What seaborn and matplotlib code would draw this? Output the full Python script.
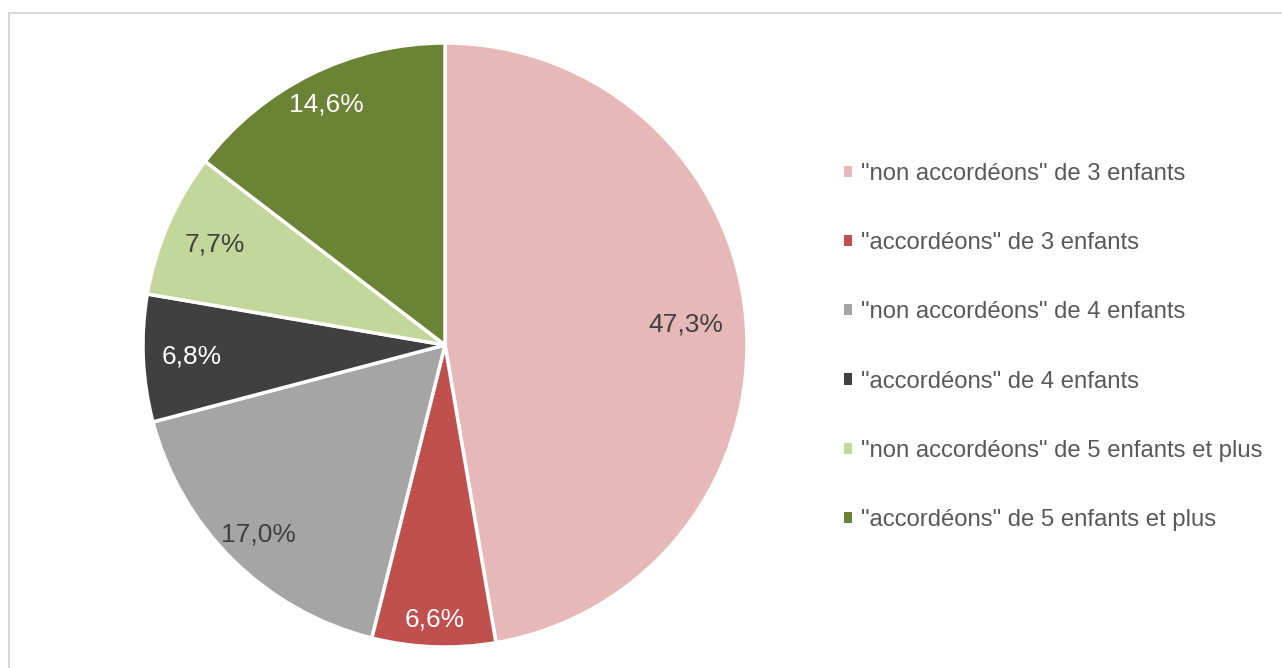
import matplotlib.pyplot as plt
import matplotlib.patches as mpatches
import numpy as np
import seaborn as sns

sns.set_theme(style="white")
plt.rcParams['font.family'] = ['Liberation Sans', 'DejaVu Sans']

categories = ['"non accordéons" de 3 enfants',
              '"accordéons" de 3 enfants',
              '"non accordéons" de 4 enfants',
              '"accordéons" de 4 enfants',
              '"non accordéons" de 5 enfants et plus',
              '"accordéons" de 5 enfants et plus']
shares = [47.3, 6.6, 17.0, 6.8, 7.7, 14.6]
labels = ['47,3%', '6,6%', '17,0%', '6,8%', '7,7%', '14,6%']

colors = ['#E6B9B8', '#C0504D', '#A5A5A5', '#404040', '#C4D79B', '#6A8335']
label_colors = ['#404040', 'white', '#404040', 'white', '#404040', 'white']
label_dist = [0.80, 0.91, 0.88, 0.84, 0.83, 0.89]

W, H = 1282, 668
fig = plt.figure(figsize=(W / 100, H / 100), dpi=100)

# light frame around the chart
fig.patches.append(mpatches.Rectangle((9 / W, -0.05), 1.2, (H - 13) / H + 0.05,
                                      transform=fig.transFigure, fill=False,
                                      edgecolor='#D9D9D9', linewidth=1.5))

cx, cy, r = 445, 345, 302
ax = fig.add_axes([(cx - r) / W, (H - cy - r) / H, 2 * r / W, 2 * r / H])

wedges, _ = ax.pie(shares, colors=colors, startangle=90, counterclock=False,
                   wedgeprops=dict(edgecolor='white', linewidth=2.5))
ax.set_xlim(-1, 1)
ax.set_ylim(-1, 1)
ax.axis('off')

for w, lab, col, d in zip(wedges, labels, label_colors, label_dist):
    ang = np.deg2rad((w.theta1 + w.theta2) / 2)
    ax.text(d * np.cos(ang), d * np.sin(ang), lab, color=col, fontsize=19,
            ha='center', va='center')

handles = [mpatches.Patch(facecolor=c, edgecolor='none') for c in colors]
leg = fig.legend(handles, categories, loc='center left',
                 bbox_to_anchor=(822 / W, (H - 347) / H), frameon=False,
                 fontsize=17.2, handlelength=0.35, handleheight=0.35,
                 handletextpad=0.4, labelspacing=1.98)
for t in leg.get_texts():
    t.set_color('#595959')

fig.savefig('out.png', dpi=100, facecolor='white')
